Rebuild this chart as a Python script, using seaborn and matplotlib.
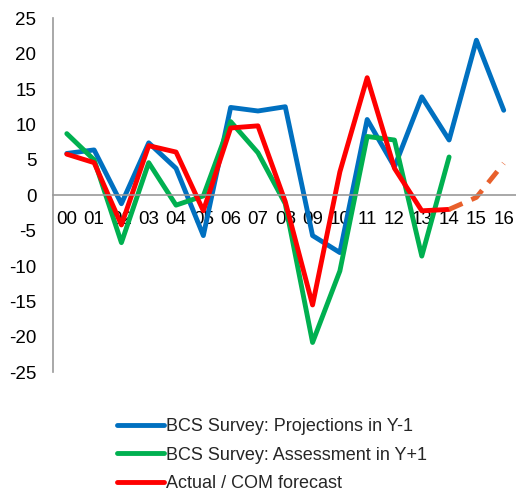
import matplotlib
matplotlib.use("Agg")
import matplotlib.pyplot as plt
import seaborn as sns
import pandas as pd
import numpy as np

years = ["00", "01", "02", "03", "04", "05", "06", "07", "08", "09", "10", "11", "12", "13", "14", "15", "16"]
projections = [5.9, 6.4, -1.2, 7.4, 3.8, -5.7, 12.4, 11.9, 12.5, -5.7, -8.1, 10.7, 4.0, 13.9, 7.8, 21.9, 12.0]
assessment = [8.7, 5.0, -6.7, 4.6, -1.4, -0.1, 10.4, 6.0, -1.2, -20.8, -10.7, 8.3, 7.8, -8.6, 5.4, None, None]
actual = [5.8, 4.6, -4.2, 7.0, 6.1, -2.2, 9.5, 9.8, -0.9, -15.5, 3.3, 16.6, 3.8, -2.2, -2.0, None, None]
forecast = [None] * 14 + [-2.0, -0.3, 4.5]

labels = ["BCS Survey: Projections in Y-1", "BCS Survey: Assessment in Y+1", "Actual / COM forecast"]

sns.set_theme(style="white")
plt.rcParams["font.family"] = ["Liberation Sans", "DejaVu Sans"]

fig = plt.figure(figsize=(5.16, 4.93), dpi=100)
ax = fig.add_axes([0.103, 0.245, 0.897, 0.718])

x = np.arange(len(years))
series = [
    (projections, "#0070C0", labels[0]),
    (assessment, "#00B050", labels[1]),
    (actual, "#FF0000", labels[2]),
]
for vals, col, lab in series:
    df = pd.DataFrame({"x": x, "y": pd.array(vals, dtype="Float64").astype(float)})
    sns.lineplot(data=df, x="x", y="y", ax=ax, color=col, linewidth=3.5, label=lab)
df = pd.DataFrame({"x": x, "y": pd.array(forecast, dtype="Float64").astype(float)})
sns.lineplot(data=df, x="x", y="y", ax=ax, color="#E8602C", linewidth=3.5,
             linestyle=(0, (3.0, 2.0)), label="_forecast")
ax.get_legend().remove()

ax.set_xlim(-0.5, 16.45)
ax.set_ylim(-25, 25)
ax.set_yticks(np.arange(-25, 26, 5))
ax.set_yticklabels([str(v) for v in range(-25, 26, 5)])
ax.set_xticks(x)
ax.set_xticklabels(years)
ax.set_xlabel("")
ax.set_ylabel("")
for s in ["top", "right"]:
    ax.spines[s].set_visible(False)
ax.spines["bottom"].set_position(("data", 0))
ax.spines["bottom"].set_color("#999999")
ax.spines["left"].set_color("#999999")
ax.spines["bottom"].set_linewidth(1.2)
ax.spines["left"].set_linewidth(1.2)
ax.tick_params(axis="both", length=0, colors="black", labelsize=13.5)
ax.tick_params(axis="x", pad=11)
ax.tick_params(axis="y", pad=12)
for lbl in ax.get_xticklabels() + ax.get_yticklabels():
    lbl.set_fontsize(13.5)

h, l = ax.get_legend_handles_labels()
fig.legend(h[:3], l[:3], loc="lower left", bbox_to_anchor=(0.21, -0.016), frameon=False,
           fontsize=13, handlelength=2.6, handletextpad=0.08, labelspacing=0.62,
           borderaxespad=0.1)

fig.savefig("out.png", dpi=100)
